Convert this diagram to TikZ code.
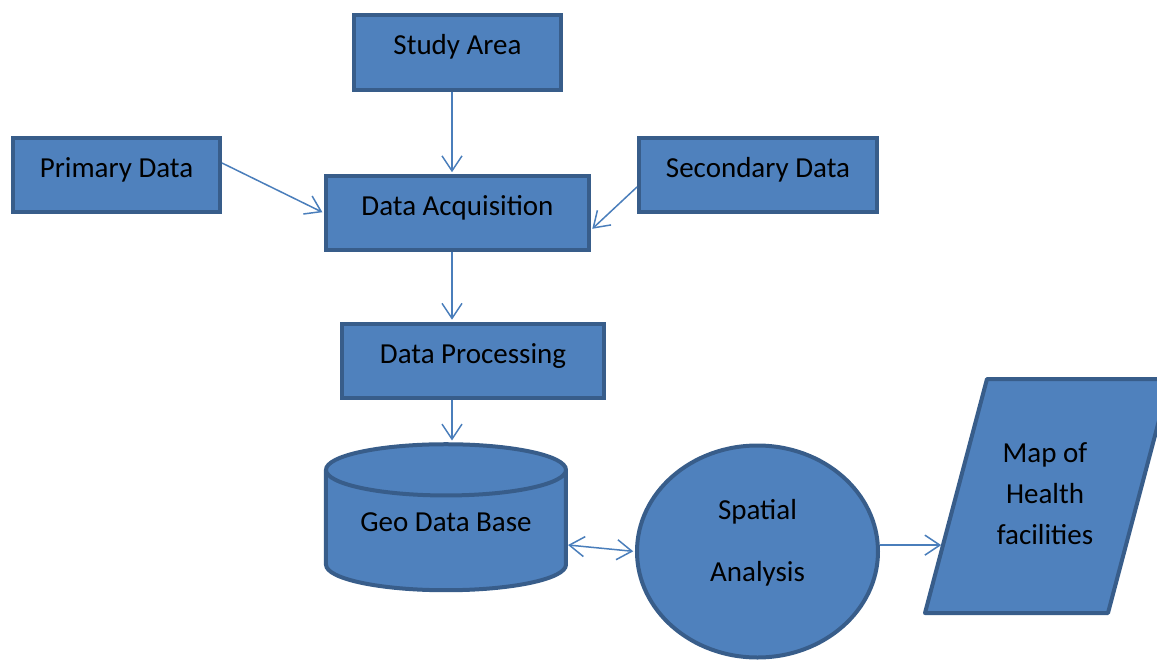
\documentclass[tikz,border=0pt]{standalone}
\usepackage{fontspec}
\setmainfont{Carlito}
\usetikzlibrary{shapes.geometric,arrows.meta,calc}
\definecolor{boxfill}{HTML}{4F81BD}
\definecolor{boxline}{HTML}{385D8A}
\definecolor{arrowblue}{HTML}{4A7EBB}

\begin{document}
\begin{tikzpicture}[->,>={Straight Barb[length=0.3cm,width=0.4cm]},shorten >=1pt,
    font=\fontsize{16.5}{20}\selectfont,
    flow box/.style={rectangle,draw=boxline,fill=boxfill,line width=0.08cm,minimum height=1.48cm,text height=0.45cm,text depth=0.35cm},
    db node/.style={cylinder,shape border rotate=90,aspect=0.28,draw=boxline,fill=boxfill,line width=0.08cm,minimum width=4.8cm,minimum height=2.92cm},
    round node/.style={ellipse,draw=boxline,fill=boxfill,line width=0.08cm,minimum width=4.82cm,minimum height=4.24cm,align=center,text depth=0.44cm},
    out shape/.style={draw=boxline,fill=boxfill,line width=0.08cm,line join=round},
    out node/.style={align=center,font=\fontsize{16.5}{23.2}\selectfont},
    link/.style={draw=arrowblue,line width=0.03cm}]

    \useasboundingbox (-9.15,1.05) rectangle (13.99,-12.17);

    \node[flow box,minimum width=4.14cm] (study) {Study Area};
    \node[flow box,minimum width=5.26cm] (acq) [below of = study, node distance=3.21cm] {Data Acquisition};
    \node[flow box,minimum width=4.14cm] (primary) [left of = acq, node distance=6.82cm, yshift=0.76cm] {Primary Data};
    \node[flow box,minimum width=4.76cm] (secondary) [right of = acq, node distance=6.01cm, yshift=0.76cm] {Secondary Data};
    \node[flow box,minimum width=5.24cm] (proc) [below of = acq, node distance=2.95cm, xshift=0.31cm] {Data Processing};
    \node[db node] (geo) [below of = proc, node distance=3.49cm, xshift=-0.54cm] {\raisebox{0.26cm}[\height][\depth]{Geo Data Base}};
    \node[round node] (spatial) [right of = geo, node distance=6.23cm, yshift=-0.33cm] {Spatial\\[0.54cm]Analysis};

    % map output: a slanted box
    \coordinate (mapbl) at (9.35,-11.21);
    \coordinate (maptl) at (10.59,-6.53);
    \coordinate (maptr) at (14.25,-6.53);
    \coordinate (mapbr) at (13.01,-11.21);
    \draw[out shape,-] (mapbl) -- (maptl) -- (maptr) -- (mapbr) -- cycle;
    \node[out node] (map) at (11.75,-8.82) {Map of\\Health\\facilities};

    \coordinate (mapin) at ($(mapbl)!0.29!(maptl)$);

    \draw[link] ([xshift=-0.11cm]study.south) -- ([xshift=-0.11cm]acq.north);
    \draw[link] ([yshift=0.24cm]primary.east) -- (acq.west);
    \draw[link] ([yshift=-0.24cm]secondary.west) -- ([yshift=-0.34cm]acq.east);
    \draw[link] ([xshift=-0.11cm]acq.south) -- ([xshift=-0.11cm]acq.south |- proc.north);
    \draw[link] ([xshift=-0.11cm]acq.south |- proc.south) -- ([xshift=-0.11cm]acq.south |- geo.north);
    \draw[link,<->] ([yshift=-0.2cm]geo.east) -- (spatial.west);
    \draw[link] (spatial.east |- mapin) -- (mapin);
\end{tikzpicture}
\end{document}
